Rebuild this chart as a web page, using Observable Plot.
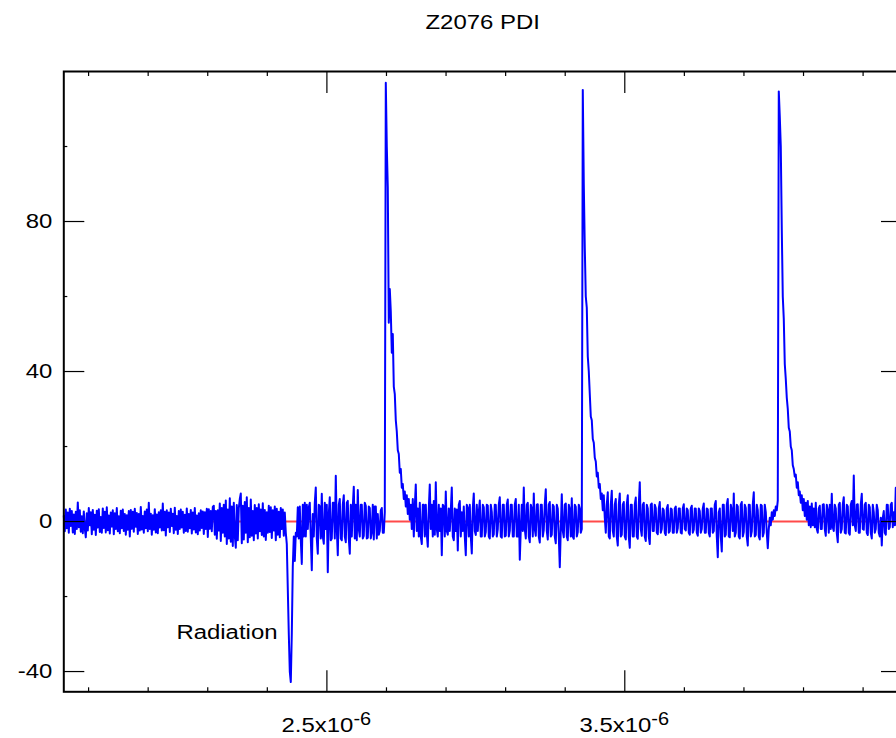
<!DOCTYPE html>
<html>
<head>
<meta charset="utf-8">
<script src="https://cdn.jsdelivr.net/npm/d3@7"></script>
<script src="https://cdn.jsdelivr.net/npm/@observablehq/plot@0.6"></script>
<style>
  html, body { margin: 0; padding: 0; background: #fff; }
  svg { display: block; }
</style>
</head>
<body>
<div id="chart"></div>
<script>
// ---- sampling grid of the recorded trace (seconds) ----
const t0 = 1.6168e-6;
const dt = 3.35683e-9;

// ---- PDI signal values, segment by segment ----
const baseline = [
  1.5, -2.6, 3.2, -1.8, 2.4, -3.0, 3.4, -1.2, 2.8, -2.9,
  1.9, -3.3, 2.6, -2.0, 5.1, -1.5, 3.0, -2.7, 1.4, -3.1,
  2.7, -1.9, -4.2, 2.2, -2.4, 3.6, -1.0, 2.5, -3.4, 3.1,
  -2.2, 1.8, -3.6, 2.9, -1.6, 3.3, -2.8, 1.2, -3.0, 3.5,
  -1.7, 2.6, -2.9, 3.8, -2.3, 1.6, -3.2, 2.4, -1.3, 3.0,
  -3.4, 2.2, -2.0, 3.6, -2.6, 1.4, -3.1, 2.9, -1.8, 3.2,
  -2.5, 2.0, -3.5, 1.7, -2.2, 2.8, -4.0, 3.1, -1.9, 2.6,
  -2.7, 3.4, -1.4, 2.3, -3.3, 2.0, -2.4, 3.9, -2.1, 1.5,
  -3.0, 2.7, -1.8, 3.2, -2.6, 5.0, -2.0, 2.1, -3.5, 1.7,
  -2.2, 3.3, -2.9, 1.9, -3.1, 2.5, -1.6, 3.0, -2.4, 4.8,
  -2.3, 2.6, -3.7, 3.0, -1.5, 2.4, -2.8, 3.4, -1.2, 2.1,
  -3.1, 3.7, -2.2, 1.5, -3.3, 2.8, -2.0, 3.2, -1.6, 2.6,
  -3.0, 1.8, -2.5, 3.5, -2.7, 2.0, -1.8, 3.1, -3.2, 2.4,
  -2.1, 3.6, -2.9, 1.6, -3.4, 2.2, -2.4, 3.0, -1.7, 2.7,
  -3.3, 2.5, -2.0, 3.4, -4.1, 3.3, -1.9, 2.8, -2.6, 3.9
];
const preRadiation = [
  4.2, -3.5, 2.8, -4.6, 3.0, -2.4, 4.8, -5.2, 3.6, -3.0,
  4.5, -4.0, 5.6, -6.0, 3.2, -4.5, 6.2, -5.4, 4.0, -6.5,
  5.0, -3.8, -7.0, 4.4, -5.0, 3.6, 6.0, 7.5, -5.8, 4.2,
  -4.8, 5.2, -3.0, 6.5, -5.5, 3.6, -4.2, 5.9, -3.8, 2.8,
  -5.0, 4.4, -3.2, 3.6, -4.5, 4.6, -2.6, 3.2, -3.6, 4.9,
  -4.0, 3.1, -4.9, 2.5, -3.0, 4.2, -2.8, 3.8, -4.4, 3.0,
  -2.4, 4.0, -5.0, 3.4, -3.5, 2.6, -4.2, 3.6, -2.0, 3.2,
  -3.8, 2.4
];
const radiationDip = [-3.0, -6, -18, -30, -40, -42.8, -30, -12, -4, -10.5, -3.0];
const postRadiation = [
  -4.0, 3.8, -4.5, 4.0, -5.0, -11.3, 4.5, -4.0, 5.0, -4.0,
  4.5, -2.0, 3.8, 5.0, -4.5, -13.0, 2.0, -4.0, 5.0, 9.1,
  -4.5, -8.6, 4.5, 4.0, -4.5, 7.4, -4.0, -5.9, 5.0, -2.0,
  4.5, -13.5, 2.0, 6.5, -5.0, -4.5, 5.0, 5.0, -4.5, 12.2,
  -2.0, -9.0, 4.5, 6.0, -4.5, -5.0, 4.5, 7.0, -4.0, -5.5,
  5.0, 5.5, -4.5, -8.6, 4.5, -4.0, 4.0, 9.3, -4.5, 4.5,
  -5.0, 8.4, -2.0, -4.0, 4.5, 4.5, -4.5, -3.8, 5.0, 4.2,
  -4.5, -4.3, 4.0, 3.6, -4.5, -2.8, 4.5, -4.8, 4.0, 4.0,
  -4.5, 2.0, -3.5, -2.5, 3.0, 3.6, -3.0, -3.0, 2.5
];
const pulse1 = [
  117, 100, 89, 53, 62, 56, 45, 50, 36, 34,
  27, 24, 19, 18, 13, 14, 9, 10, 6, 8,
  4, 7, 2, 6
];
const between12 = [
  0.5, 4.5, -2.0, 6.0, -4.0, 4.0, 9.9, -2.5, 3.5, -4.0,
  5.0, -4.0, -6.0, 4.5, 4.5, -4.0, 4.5, -3.2, -6.7, 3.5,
  9.9, -2.0, 4.5, -4.0, 5.5, -3.5, 10.5, -2.0, -4.0, 4.5,
  -2.5, 3.5, -9.0, 4.5, 4.0, -4.0, 8.0, -2.5, -3.5, 3.5,
  -2.5, 2.8, 9.1, -4.0, -5.0, 3.5, -2.5, 3.2, -7.7, 4.5,
  5.5, -4.0, 2.5, -2.5, 4.0, -4.0, -9.0, 4.5, 3.6, -4.0,
  4.5, -4.0, -8.5, 3.5, 7.5, -2.5, -3.6, 4.5, -2.5, 2.5,
  5.6, -4.0, -4.0, 4.5, 3.8, -4.0, -2.8, 4.5, 4.2, -4.0,
  -4.5, 4.5, 2.6, -4.0, -3.4, 4.5, 4.4, -4.0, -2.0, 4.5,
  6.5, -4.0, -4.3, 4.5, 4.5, -4.0, -3.8, 4.5, 5.9, -4.0,
  -2.5, 4.5, 4.5, -4.0, -4.0, 4.5, 6.0, -4.0, -4.0, 4.5,
  -10.2, -2.0, 4.5, -2.5, 9.1, -2.0, -4.5, 4.5, 5.0, -4.0,
  -5.5, 4.5, 3.5, -4.0, 7.5, -2.0, -3.8, 4.5, 4.6, -4.0,
  -5.6, 4.5, 4.5, -4.0, -2.2, 4.5, 8.6, -2.5, -4.8, 4.5,
  5.2, -4.0, -3.5, 4.5, 4.0, -4.0, -5.8, 4.5, 3.4, -4.0,
  -12.2, -2.0, 7.3, -2.5, -4.2, 4.5, 4.8, -4.0, -5.0, 4.5,
  3.3, -4.0, 6.2, -4.0, -4.6, 4.5, 3.9, -4.0, -2.8, 4.5,
  3.5, -3.0, -2.0
];
const pulse2 = [
  115.1, 90, 73, 60, 57, 44, 40, 34, 28, 27,
  22, 21, 17, 16, 12, 13, 9, 10, 6, 7.5,
  3, 7, 1
];
const between23 = [
  -3.0, 4.5, 7.8, -4.0, -4.5, 4.5, 8.2, -2.5, -4.0, 4.5,
  6.0, -4.0, -6.4, 4.5, 7.5, -4.0, -3.5, 4.5, 5.2, -4.0,
  -4.8, 4.5, 7.0, -4.0, -7.0, 4.5, 4.5, -4.0, -4.0, 4.5,
  6.4, -4.0, -4.6, 4.5, 10.5, -2.0, -3.8, 4.5, 5.0, -4.0,
  -5.2, 4.5, 3.5, -4.0, -6.0, 4.5, 4.8, -2.5, -2.5, 4.5,
  3.6, -3.0, -3.4, 3.5, 5.2, -3.0, -2.0, 3.5, 3.0, -3.0,
  -3.6, 3.5, 4.4, -3.0, -2.6, 3.5, 3.2, -3.0, -3.0, 3.5,
  4.0, -3.0, -1.8, 3.5, 3.5, -3.0, -3.2, 3.5, 4.6, -2.0,
  -2.4, 3.5, 3.0, -3.0, -3.5, 3.5, 4.2, -3.0, -2.2, 3.5,
  3.4, -3.0, -3.8, 3.5, 2.8, -3.0, -2.0, 3.5, 4.8, -3.0,
  -3.0, 3.5, 3.2, -3.0, -4.0, 3.5, 3.5, -3.0, -2.5, 4.5,
  5.5, -4.0, -9.5, 2.5, 3.5, -4.0, -8.0, 4.5, 4.5, -4.0,
  -3.5, 4.5, 6.0, -4.0, -4.2, 4.5, 3.0, -2.5, 7.5, -4.0,
  -3.0, 4.5, 4.0, -4.0, -4.5, 4.5, 5.2, -4.0, -2.8, 4.5,
  3.6, -4.0, -6.4, 4.5, 4.4, -4.0, -2.6, 4.5, 7.8, -4.0,
  -3.6, 4.5, 3.0, -4.0, -4.8, 4.5, 4.2, -4.0, -3.0, 4.5,
  2.5, -3.0, -7.1, -2.0, 1.0, -1.0, 2.5, 0.5, 3.0, 1.5,
  4.0, 3.0, 5.6
];
const pulse3 = [
  114.7, 108, 100, 78, 60, 54, 42, 38, 33, 30,
  25, 24, 20, 19, 15, 14, 12, 12.5, 9, 10.5,
  7, 8, 5, 7, 3
];
const tail = [
  6.0, 1.5, 5.0, 0.5, 5.5, -1.0, 4.0, -1.5, 4.8, -1.0,
  3.5, -1.5, 5.0, -2.0, -3.0, 3.5, 4.2, -2.0, -2.0, 4.5,
  4.6, -2.0, -3.8, 4.5, 3.0, -3.0, 4.5, -2.0, 7.4, -1.5,
  -2.5, 4.5, 3.5, -3.0, -5.5, 4.5, 5.0, -3.0, -2.0, 4.5,
  6.5, -3.0, -3.2, 4.5, 4.0, -3.0, -3.5, 4.5, 5.5, -1.0,
  12.3, -1.0, -2.5, 4.5, 4.6, -3.0, -3.0, 4.5, 7.4, -2.0,
  -2.2, 4.5, 5.0, -3.0, -3.6, 4.5, 3.8, -3.0, -4.5, 4.5,
  2.5, -3.0, -2.0, 4.5, 3.0, -3.0, -4.0, 1.0, -6.4, 1.0,
  2.8, -3.0, -3.5, 4.5, 4.4, -2.0, -1.5, 4.5, 5.0, -1.5,
  2.5, -1.0, 9.0, -1.0, 1.0, 4.0, 6.5, -1.0
];

// ---- axes ----
const xDomain = [1.6168e-6, 4.4289e-6];
const yDomain = [-45.4, 120];
const xMajor = [2.5e-6, 3.5e-6];
const xTickBase = ["2.5x10", "3.5x10"];
const xTickExp = ["-6", "-6"];
const xMinor = [1.7e-6, 1.9e-6, 2.1e-6, 2.3e-6, 2.7e-6, 2.9e-6, 3.1e-6, 3.3e-6, 3.7e-6, 3.9e-6, 4.1e-6, 4.3e-6];
const yMajor = [-40, 0, 40, 80];
const yTickLabels = ["-40", "0", "40", "80"];
const yMinor = [-20, 20, 60, 100];
const referenceLevel = [0];
const titleText = ["Z2076 PDI"];
const annotations = [{t: 2.3342e-6, v: -31.45, label: "Radiation"}];

// ---- build the trace table ----
const values = [].concat(baseline, preRadiation, radiationDip, postRadiation, pulse1,
                         between12, pulse2, between23, pulse3, tail);
const trace = values.map((v, i) => ({t: t0 + i * dt, v}));

const font = "'Liberation Sans', Arial, Helvetica, sans-serif";
const tickStyle = {fill: "none", stroke: "black", strokeWidth: 1.2};

const chart = Plot.plot({
  width: 896,
  height: 738,
  marginLeft: 63.3,
  marginRight: -5,
  marginTop: 71,
  marginBottom: 46.7,
  style: {background: "white", color: "black", fontFamily: font, fontSize: "21px"},
  x: {domain: xDomain},
  y: {domain: yDomain},
  marks: [
    Plot.ruleY(referenceLevel, {stroke: "#ff4a4a", strokeWidth: 2}),
    Plot.line(trace, {x: "t", y: "v", stroke: "#0000ff", strokeWidth: 2, strokeLinejoin: "round"}),
    Plot.axisX(xMajor, {anchor: "bottom", tickSize: -21, ...tickStyle}),
    Plot.axisX(xMajor, {anchor: "top", tickSize: -21, ...tickStyle}),
    Plot.axisX(xMinor, {anchor: "bottom", tickSize: -4, ...tickStyle}),
    Plot.axisX(xMinor, {anchor: "top", tickSize: -4, ...tickStyle}),
    Plot.axisY(yMajor, {anchor: "left", tickSize: -21, ...tickStyle}),
    Plot.axisY(yMajor, {anchor: "right", tickSize: -21, ...tickStyle}),
    Plot.axisY(yMinor, {anchor: "left", tickSize: -4, ...tickStyle}),
    Plot.axisY(yMinor, {anchor: "right", tickSize: -4, ...tickStyle}),
    Plot.frame({stroke: "black", strokeWidth: 2}),
    Plot.text(titleText, {text: d => d, frameAnchor: "top", dy: -43, lineAnchor: "bottom", fontSize: 21, fill: "black"}),
    Plot.text(yMajor, {y: d => d, text: (d, i) => yTickLabels[i], frameAnchor: "left", dx: -11.5,
                       textAnchor: "end", lineAnchor: "middle", fontSize: 21, fill: "black"}),
    Plot.text(xMajor, {x: d => d, text: (d, i) => xTickBase[i], frameAnchor: "bottom", dx: 26.5, dy: 40.2,
                       textAnchor: "end", lineAnchor: "bottom", fontSize: 21, fill: "black"}),
    Plot.text(xMajor, {x: d => d, text: (d, i) => xTickExp[i], frameAnchor: "bottom", dx: 26.5, dy: 32.8,
                       textAnchor: "start", lineAnchor: "bottom", fontSize: 17.5, fill: "black"}),
    Plot.text(annotations, {x: "t", y: "v", text: "label", textAnchor: "end", lineAnchor: "bottom",
                            fontSize: 21, fill: "black"})
  ]
});

// the reference lettering is horizontally wider than Arial: stretch each label about its anchor
chart.querySelectorAll("text").forEach(el => {
  const tr = el.getAttribute("transform");
  if (tr) el.setAttribute("transform", tr + " scale(1.14,1)");
});

document.getElementById("chart").appendChild(chart);
</script>
</body>
</html>
